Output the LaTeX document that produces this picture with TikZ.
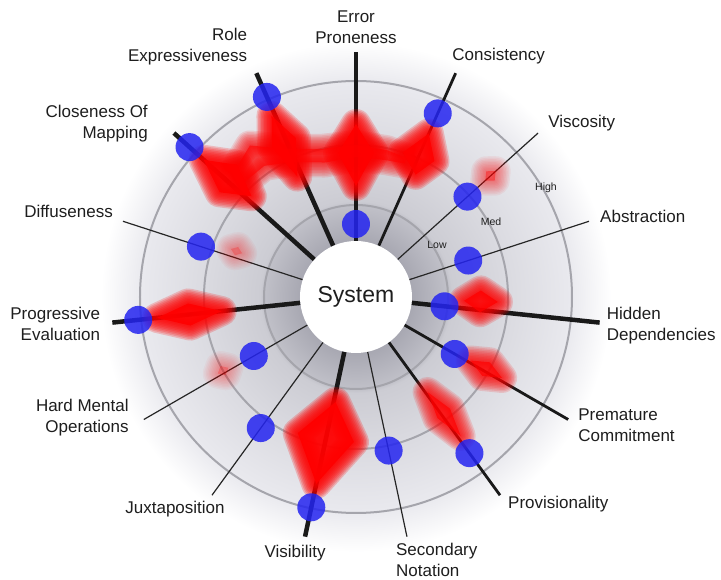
\documentclass[tikz,border=0pt]{standalone}
\usepackage{fontspec}
\setmainfont{Liberation Sans}
\definecolor{bgA}{RGB}{150,150,160}
\definecolor{bgB}{RGB}{168,168,178}
\definecolor{bgC}{RGB}{192,192,200}
\definecolor{bgD}{RGB}{204,204,211}
\definecolor{bgE}{RGB}{218,218,224}
\definecolor{bgF}{RGB}{233,233,238}
\definecolor{ringgray}{RGB}{165,165,172}
\definecolor{dotblue}{RGB}{36,36,240}
\definecolor{blobred}{RGB}{255,0,0}
\definecolor{txt}{RGB}{30,30,30}
\pgfdeclareradialshading{bgshade}{\pgfpoint{0bp}{0bp}}{color(0bp)=(bgA); color(5.5bp)=(bgB); color(9bp)=(bgC); color(9.4bp)=(bgD); color(14.7bp)=(bgE); color(21bp)=(bgF); color(25bp)=(white); color(50bp)=(white)}
% #1 opacity of one halo stroke, #2 opacity of the core, #3 outline of the core
\newcommand{\redblob}[3]{%
	\foreach \w in {30,27,...,3}{\draw[blobred, line width=\w pt, line join=round, draw opacity=#1] #3;}
	\fill[blobred, fill opacity=#2] #3;}

\begin{document}
\begin{tikzpicture}[x=1pt, y=1pt,
	lbl/.style={inner sep=0pt, text=txt, font=\fontsize{17}{21}\selectfont},
	lvl/.style={inner sep=0pt, text=txt, font=\fontsize{10.5}{12}\selectfont},
	dot/.style={circle, fill=dotblue, fill opacity=0.85, minimum size=28pt, inner sep=0pt},
	heavy/.style={line width=4.5pt, draw=black!90},
	medium/.style={line width=2.8pt, draw=black!90},
	light/.style={line width=1.2pt, draw=black!85},
	ring/.style={draw=ringgray, line width=2pt}]

	\fill[white] (-356,-283) rectangle (365,297);
	\useasboundingbox (-356,-283) rectangle (365,297);
	\shade[shading=bgshade] (0,0) circle (255);
	\draw[ring] (0,0) circle (92);
	\draw[ring] (0,0) circle (152);
	\draw[ring] (0,0) circle (216);

	\node[circle, fill=white, minimum size=112pt, inner sep=0pt, text=txt, font=\fontsize{23}{28}\selectfont] (sys) at (0,0) {System};

	\coordinate (EP) at (90:245);
	\coordinate (Co) at (66:245);
	\coordinate (Vi) at (42:245);
	\coordinate (Ab) at (18:245);
	\coordinate (HD) at (-6:245);
	\coordinate (PC) at (-30:245);
	\coordinate (Pv) at (-54:245);
	\coordinate (SN) at (-78:245);
	\coordinate (Vs) at (-102:245);
	\coordinate (Jx) at (-126:245);
	\coordinate (HM) at (-150:245);
	\coordinate (PE) at (-174:245);
	\coordinate (Df) at (162:245);
	\coordinate (CM) at (138:245);
	\coordinate (RE) at (114:245);

	\draw[heavy] (sys) -- (EP);
	\draw[medium] (sys) -- (Co);
	\draw[light] (sys) -- (Vi);
	\draw[light] (sys) -- (Ab);
	\draw[heavy] (sys) -- (HD);
	\draw[medium] (sys) -- (PC);
	\draw[medium] (sys) -- (Pv);
	\draw[light] (sys) -- (SN);
	\draw[heavy] (sys) -- (Vs);
	\draw[light] (sys) -- (Jx);
	\draw[light] (sys) -- (HM);
	\draw[heavy] (sys) -- (PE);
	\draw[light] (sys) -- (Df);
	\draw[heavy] (sys) -- (CM);
	\draw[heavy] (sys) -- (RE);

	\redblob{0.2}{0.9}{(138:205) -- (132:178) -- (136:145) -- (142.5:172) -- cycle}
	\redblob{0.2}{0.9}{(115:200) -- (110.7:170) -- (116:134) -- (119.3:172) -- cycle}
	\redblob{0.2}{0.9}{(90:173) -- (82.9:145) -- (90:111) -- (97.1:145) -- cycle}
	\redblob{0.2}{0.9}{(66:179) -- (60:157) -- (64:136) -- (72:152) -- cycle}
	\redblob{0.12}{0.6}{(134:175) -- (125:185) -- (116:165) -- (103:152) -- (90:152) -- (78:150) -- (70:148) -- (70:142) -- (78:140) -- (90:140) -- (103:138) -- (116:150) -- (125:160) -- (134:160) -- cycle}
	\redblob{0.06}{0.4}{(42:188) -- (40:181) -- (42:174) -- (44:181) -- cycle}
	\redblob{0.04}{0.25}{(159:134) -- (157:128) -- (159:122) -- (161:128) -- cycle}
	\redblob{0.2}{0.9}{(186:200) -- (182.2:168) -- (186:135) -- (189.8:168) -- cycle}
	\redblob{0.04}{0.25}{(209:158) -- (207:152) -- (209:146) -- (211:152) -- cycle}
	\redblob{0.22}{0.95}{(-102:191) -- (-90.8:145) -- (-101:107) -- (-113.2:148) -- cycle}
	\redblob{0.14}{0.7}{(-53:174) -- (-49.9:146) -- (-53:119) -- (-56.1:146) -- cycle}
	\redblob{0.14}{0.7}{(-29:167) -- (-26:149) -- (-29:131) -- (-32:149) -- cycle}
	\redblob{0.17}{0.8}{(-2:142) -- (3:125) -- (-2:108) -- (-7:125) -- cycle}

	\node[dot] (EPd) at (90:73) {};
	\node[dot] (Cod) at (66:201) {};
	\node[dot] (Vid) at (42:150) {};
	\node[dot] (Abd) at (18:118) {};
	\node[dot] (HDd) at (-6:89) {};
	\node[dot] (PCd) at (-30:114) {};
	\node[dot] (Pvd) at (-54:193) {};
	\node[dot] (SNd) at (-78:157) {};
	\node[dot] (Vsd) at (-102:215) {};
	\node[dot] (Jxd) at (-126:162) {};
	\node[dot] (HMd) at (-150:118) {};
	\node[dot] (PEd) at (-174:219) {};
	\node[dot] (Dfd) at (162:163) {};
	\node[dot] (CMd) at (138:224) {};
	\node[dot] (REd) at (114:219) {};

	\node[lbl, align=center] (EPl) at ([shift={(0,25)}]EP) {Error\\Proneness};
	\node[lbl] (Col) at ([shift={(43,17)}]Co) {Consistency};
	\node[lbl, anchor=west] (Vil) at ([shift={(10,10)}]Vi) {Viscosity};
	\node[lbl, anchor=west] (Abl) at ([shift={(11,5)}]Ab) {Abstraction};
	\node[lbl, anchor=west, align=left] (HDl) at ([shift={(7,-3)}]HD) {Hidden\\Dependencies};
	\node[lbl, anchor=west, align=left] (PCl) at ([shift={(10,-6)}]PC) {Premature\\Commitment};
	\node[lbl, anchor=west] (Pvl) at ([shift={(8,-9)}]Pv) {Provisionality};
	\node[lbl, anchor=west, align=left] (SNl) at ([shift={(-11,-23)}]SN) {Secondary\\Notation};
	\node[lbl] (Vsl) at ([shift={(-10,-16)}]Vs) {Visibility};
	\node[lbl] (Jxl) at ([shift={(-37,-14)}]Jx) {Juxtaposition};
	\node[lbl, anchor=east, align=right] (HMl) at ([shift={(-15,2)}]HM) {Hard Mental\\Operations};
	\node[lbl, anchor=east, align=right] (PEl) at ([shift={(-12,-1)}]PE) {Progressive\\Evaluation};
	\node[lbl, anchor=east] (Dfl) at ([shift={(-10,10)}]Df) {Diffuseness};
	\node[lbl, anchor=east, align=right] (CMl) at ([shift={(-26,9)}]CM) {Closeness Of\\Mapping};
	\node[lbl, anchor=east, align=right] (REl) at ([shift={(-9,27)}]RE) {Role\\Expressiveness};

	\node[lvl] (low) at (81,52) {Low};
	\node[lvl] (med) at (135,75) {Med};
	\node[lvl] (high) at (190,109) {High};

\end{tikzpicture}
\end{document}
